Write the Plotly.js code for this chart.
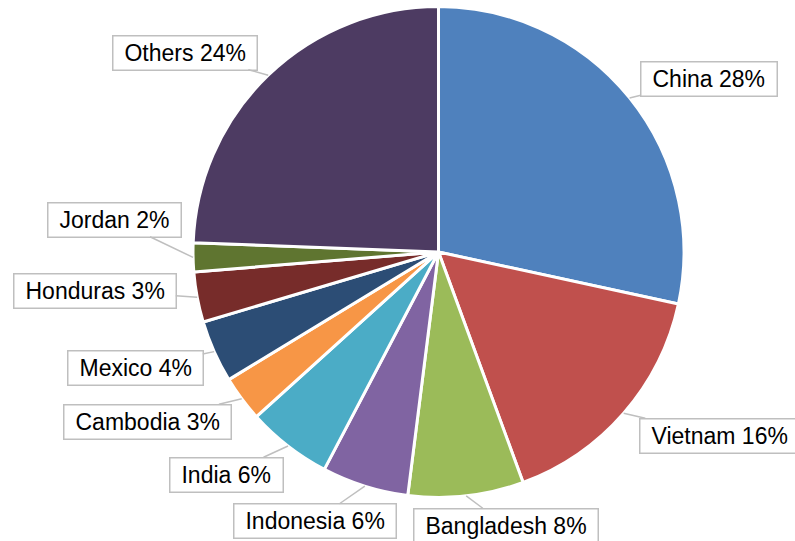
<!DOCTYPE html>
<html>
<head>
<meta charset="utf-8">
<script src="https://cdn.plot.ly/plotly-3.0.1.min.js"></script>
<style>html,body{margin:0;padding:0;background:#fff;}#chart{width:795px;height:541px;}</style>
</head>
<body>
<div id="chart"></div>
<script>
// Data
const countries = ["China", "Vietnam", "Bangladesh", "Indonesia", "India", "Cambodia", "Mexico", "Honduras", "Jordan", "Others"];
const shares = [28.4, 16.0, 7.6, 5.7, 5.6, 3.0, 4.1, 3.3, 1.9, 24.4];
const colors = ["#4F81BD", "#C0504D", "#9BBB59", "#8064A2", "#4BACC6", "#F79646", "#2C4D75", "#772C2A", "#5F7530", "#4D3B62"];

// Label box centres (layout, in pixels)
const labelCx = [709, 719, 506, 314.5, 226, 147, 135, 94.5, 114, 185];
const labelCy = [78.7, 435.5, 525.5, 521, 474.5, 421.5, 368, 290.5, 219.5, 52.5];

const W = 795, H = 541;
const cx = 438.5, cy = 252, R = 245.5;
const FONT = "Liberation Sans, Arial, sans-serif";
const FS = 23;

const total = shares.reduce((a, b) => a + b, 0);
const canvas = document.createElement("canvas");
const ctx = canvas.getContext("2d");
ctx.font = FS + "px 'Liberation Sans'";

let cum = 0;
const annotations = [];
countries.forEach((c, i) => {
  const mid = (cum + shares[i] / 2) / total;
  cum += shares[i];
  const th = mid * 2 * Math.PI;
  const px = cx + R * Math.sin(th);
  const py = cy - R * Math.cos(th);
  const txt = c + " " + Math.round(shares[i] / total * 100) + "%";
  const tw = ctx.measureText(txt).width;
  annotations.push({
    xref: "paper", yref: "paper",
    x: px / W, y: 1 - py / H,
    ax: labelCx[i] - px, ay: labelCy[i] - py,
    axref: "pixel", ayref: "pixel",
    text: txt,
    showarrow: true, arrowhead: 0, arrowwidth: 1.5, arrowcolor: "#BFBFBF",
    bordercolor: "#BFBFBF", borderwidth: 1.5, borderpad: 1,
    bgcolor: "#FFFFFF",
    width: tw + 20, height: 31,
    font: {family: FONT, size: FS, color: "#000000"}
  });
});

const trace = {
  type: "pie",
  labels: countries,
  values: shares,
  sort: false,
  direction: "clockwise",
  rotation: 0,
  textinfo: "none",
  hoverinfo: "none",
  marker: {colors: colors, line: {color: "#FFFFFF", width: 3}},
  domain: {x: [(cx - R) / W, (cx + R) / W], y: [1 - (cy + R) / H, 1 - (cy - R) / H]},
  showlegend: false
};

Plotly.newPlot("chart", [trace], {
  width: W, height: H,
  margin: {l: 0, r: 0, t: 0, b: 0},
  paper_bgcolor: "#FFFFFF",
  showlegend: false,
  annotations: annotations
}, {displayModeBar: false, staticPlot: true});
</script>
</body>
</html>
